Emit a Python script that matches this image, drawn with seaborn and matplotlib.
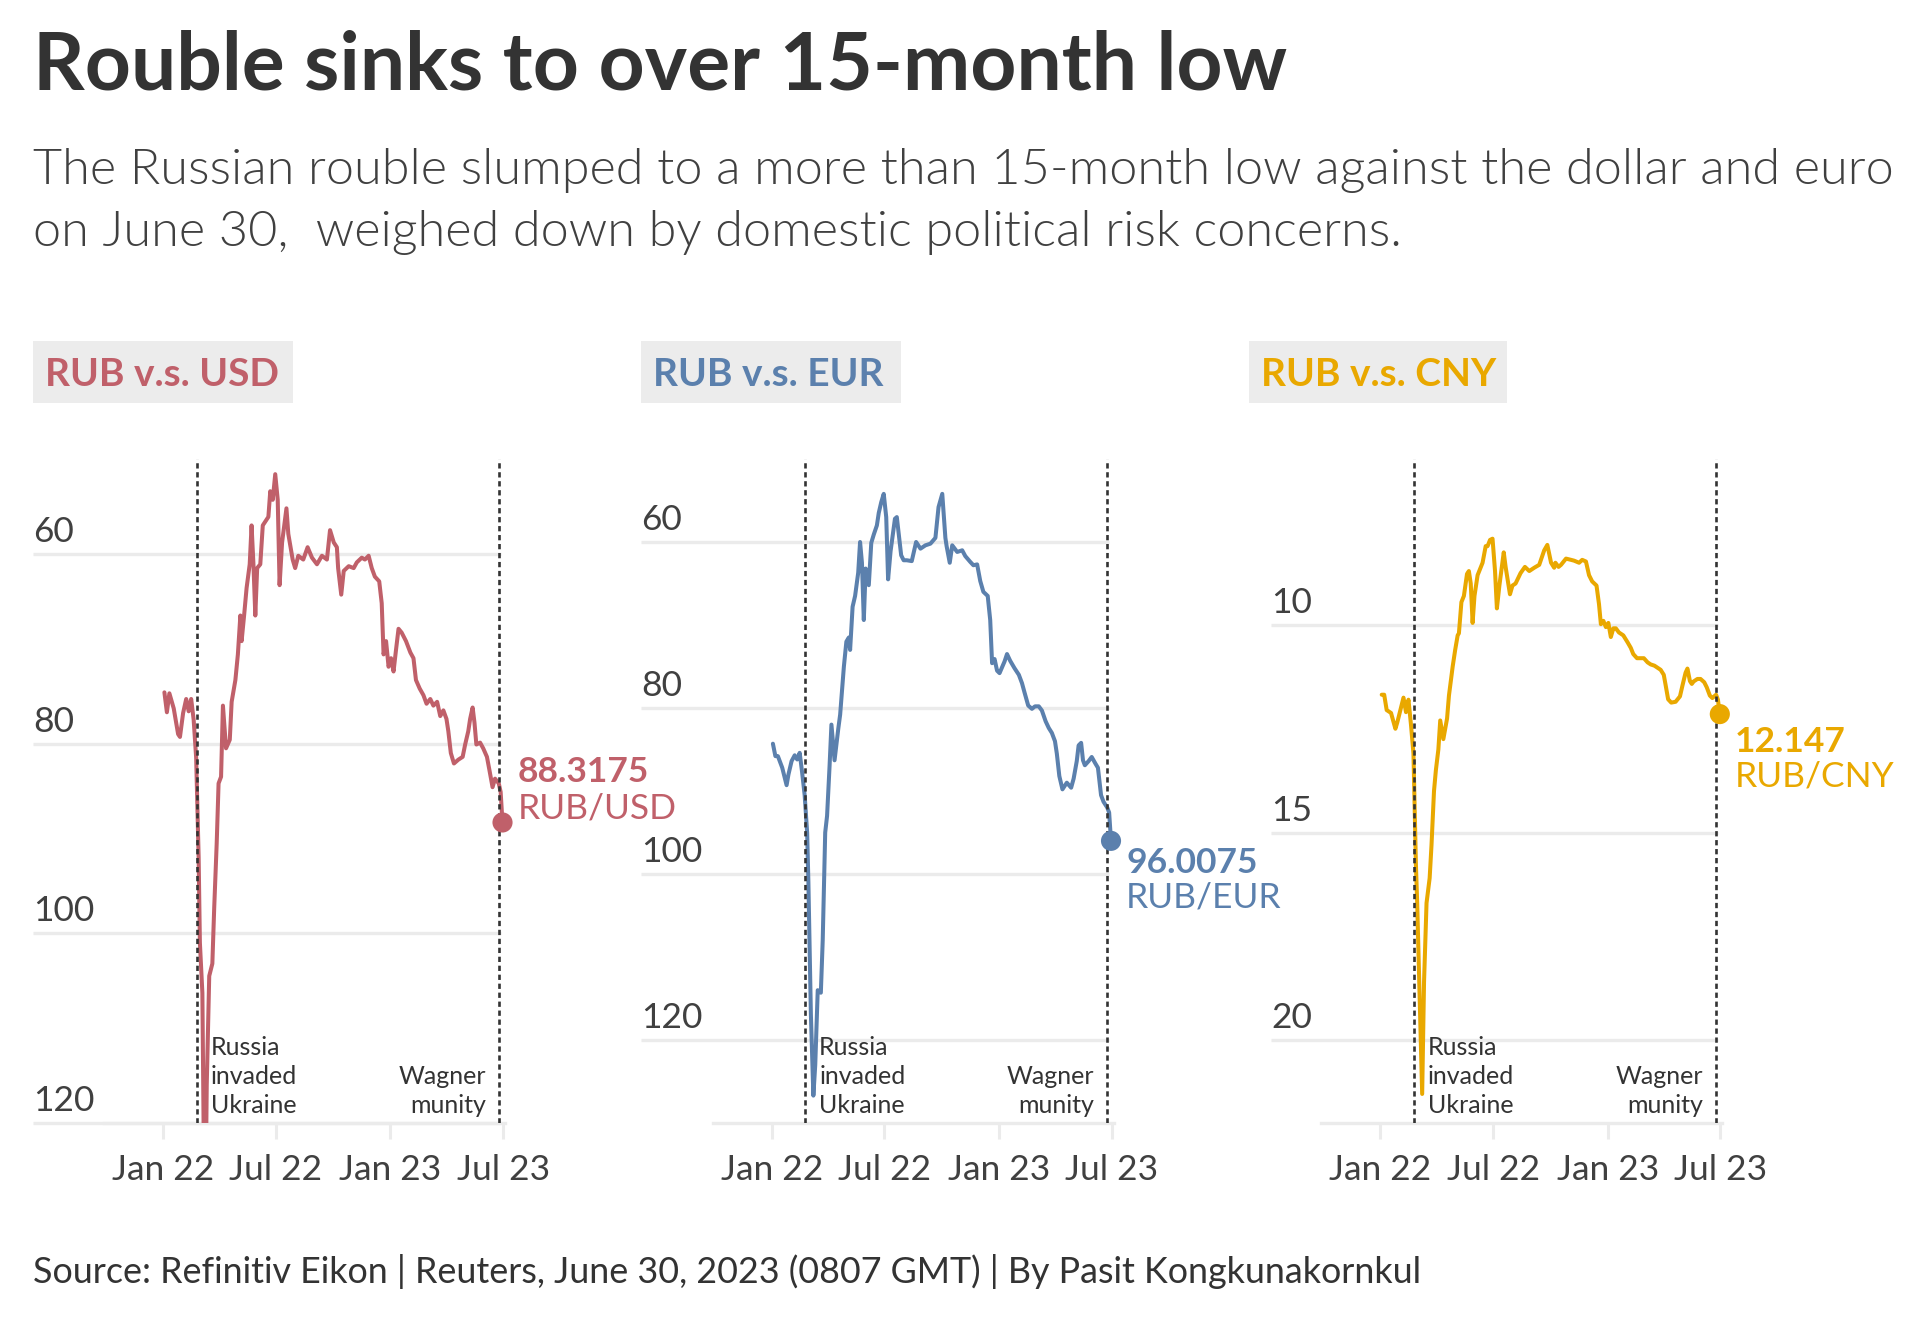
import matplotlib
matplotlib.use("Agg")
import matplotlib.pyplot as plt
import matplotlib.dates as mdates
from matplotlib import font_manager
from matplotlib.patches import Rectangle
import pandas as pd
import seaborn as sns

# ---------------- data ----------------
dates = [
    "2022-01-03", "2022-01-07", "2022-01-11", "2022-01-18", "2022-01-25", "2022-01-28",
    "2022-02-02", "2022-02-07", "2022-02-11", "2022-02-15", "2022-02-19", "2022-02-23",
    "2022-02-27", "2022-03-01", "2022-03-05", "2022-03-09", "2022-03-12", "2022-03-16",
    "2022-03-21", "2022-03-24", "2022-03-28", "2022-03-31", "2022-04-04", "2022-04-07",
    "2022-04-12", "2022-04-18", "2022-04-21", "2022-04-27", "2022-05-01", "2022-05-05",
    "2022-05-07", "2022-05-11", "2022-05-15", "2022-05-20", "2022-05-23", "2022-05-26",
    "2022-05-29", "2022-06-01", "2022-06-06", "2022-06-10", "2022-06-14", "2022-06-19",
    "2022-06-22", "2022-06-26", "2022-06-30", "2022-07-04", "2022-07-07", "2022-07-11",
    "2022-07-18", "2022-07-21", "2022-07-28", "2022-08-01", "2022-08-06", "2022-08-14",
    "2022-08-21", "2022-08-28", "2022-09-05", "2022-09-13", "2022-09-21", "2022-09-26",
    "2022-10-02", "2022-10-07", "2022-10-09", "2022-10-14", "2022-10-18", "2022-10-26",
    "2022-11-03", "2022-11-08", "2022-11-16", "2022-11-21", "2022-11-27", "2022-12-02",
    "2022-12-07", "2022-12-14", "2022-12-18", "2022-12-21", "2022-12-25", "2022-12-29",
    "2023-01-02", "2023-01-06", "2023-01-10", "2023-01-14", "2023-01-19", "2023-01-26",
    "2023-02-02", "2023-02-07", "2023-02-11", "2023-02-17", "2023-02-23", "2023-02-28",
    "2023-03-06", "2023-03-11", "2023-03-17", "2023-03-22", "2023-03-27", "2023-04-01",
    "2023-04-04", "2023-04-08", "2023-04-13", "2023-04-20", "2023-04-27", "2023-05-01",
    "2023-05-06", "2023-05-09", "2023-05-13", "2023-05-16", "2023-05-19", "2023-05-25",
    "2023-05-30", "2023-06-05", "2023-06-09", "2023-06-14", "2023-06-18", "2023-06-24",
    "2023-06-27", "2023-06-30",
]

rub_usd = [
    74.6, 76.7, 74.7, 76.3, 79.0, 79.3, 76.8, 75.3, 76.6, 75.3,
    77.5, 81.5, 92.0, 101.0, 106.3, 135.0, 116.0, 104.5, 103.2, 97.3,
    90.5, 84.2, 83.5, 76.0, 80.5, 79.6, 75.6, 73.3, 70.6, 66.5,
    69.2, 66.5, 63.6, 61.1, 57.0, 61.1, 66.5, 61.5, 61.1, 57.0,
    56.6, 56.1, 53.4, 54.3, 51.6, 54.3, 63.3, 58.8, 55.2, 57.9,
    60.6, 61.5, 60.2, 60.6, 59.3, 60.4, 61.1, 60.2, 60.6, 57.5,
    58.8, 59.3, 61.5, 64.3, 61.8, 61.3, 61.5, 60.9, 60.4, 60.6,
    60.2, 61.5, 62.4, 62.9, 65.2, 70.6, 69.2, 71.9, 71.0, 72.4,
    70.1, 67.9, 68.3, 69.2, 70.4, 71.0, 73.3, 74.2, 74.9, 75.8,
    75.3, 76.0, 75.6, 77.1, 76.5, 77.4, 78.7, 81.0, 82.1, 81.7,
    81.4, 80.1, 78.7, 77.4, 76.2, 77.8, 80.1, 79.9, 80.5, 81.4,
    82.8, 84.6, 83.7, 84.2, 85.1, 88.3175,
]

rub_eur = [
    84.3, 85.8, 85.8, 87.2, 89.3, 88.0, 86.4, 85.7, 86.2, 85.4,
    87.8, 90.5, 95.0, 101.0, 116.9, 126.7, 123.0, 114.0, 114.3, 108.0,
    95.0, 93.0, 87.0, 82.0, 86.3, 82.5, 80.8, 75.0, 72.0, 71.5,
    73.0, 67.8, 66.5, 63.7, 60.0, 62.5, 69.4, 63.2, 65.2, 60.1,
    59.1, 58.0, 56.5, 55.2, 54.2, 57.0, 64.5, 61.1, 57.2, 57.0,
    61.6, 62.2, 62.2, 62.3, 60.0, 60.8, 60.4, 60.2, 59.5, 55.8,
    54.2, 59.5, 60.5, 62.5, 60.4, 61.2, 61.0, 61.7, 62.4, 62.8,
    62.7, 64.7, 66.0, 66.5, 69.4, 74.6, 74.1, 75.5, 75.8, 75.1,
    74.4, 73.5, 74.3, 75.2, 76.0, 77.0, 78.1, 79.7, 80.1, 79.8,
    79.8, 80.3, 81.6, 82.4, 83.0, 84.0, 85.5, 88.2, 89.8, 89.0,
    89.6, 88.5, 86.4, 84.5, 84.2, 86.3, 86.9, 86.4, 85.9, 86.7,
    87.2, 90.5, 91.3, 92.0, 92.6, 96.0075,
]

rub_cny = [
    11.68, 11.68, 12.05, 12.12, 12.5, 12.35, 12.05, 11.75, 12.1, 11.8,
    12.4, 13.1, 15.8, 16.7, 19.0, 21.3, 18.6, 16.7, 16.1, 15.3,
    14.0, 13.5, 13.0, 12.3, 12.75, 12.25, 11.7, 11.0, 10.6, 10.25,
    10.2, 9.45, 9.3, 8.77, 8.7, 9.0, 9.95, 9.3, 8.8, 8.65,
    8.5, 8.1, 8.1, 7.95, 7.92, 8.7, 9.6, 9.05, 8.25, 8.6,
    9.26, 9.05, 9.0, 8.75, 8.6, 8.7, 8.62, 8.55, 8.2, 8.07,
    8.5, 8.62, 8.5, 8.6, 8.55, 8.4, 8.43, 8.45, 8.5, 8.43,
    8.47, 8.8, 8.95, 9.05, 9.5, 9.98, 9.9, 10.05, 9.95, 10.29,
    10.08, 10.08, 10.18, 10.25, 10.42, 10.55, 10.7, 10.8, 10.8, 10.8,
    10.9, 10.95, 10.98, 11.03, 11.08, 11.2, 11.45, 11.79, 11.87, 11.85,
    11.72, 11.46, 11.15, 11.05, 11.35, 11.42, 11.36, 11.3, 11.3, 11.38,
    11.5, 11.7, 11.76, 11.68, 11.8, 12.147,
]

panel_titles = ["RUB v.s. USD", "RUB v.s. EUR", "RUB v.s. CNY"]
pair_labels = ["RUB/USD", "RUB/EUR", "RUB/CNY"]
last_value_labels = ["88.3175", "96.0075", "12.147"]
y_ticks = [[60, 80, 100, 120], [60, 80, 100, 120], [10, 15, 20]]
y_limits = [(120, 50), (130, 50), (22, 6)]
x_tick_dates = ["2022-01-01", "2022-07-01", "2023-01-01", "2023-07-01"]
x_tick_labels = ["Jan 22", "Jul 22", "Jan 23", "Jul 23"]
event_dates = ["2022-02-24", "2023-06-24"]
event_labels = ["Russia\ninvaded\nUkraine", "Wagner\nmunity"]

title = "Rouble sinks to over 15-month low"
subtitle_lines = [
    "The Russian rouble slumped to a more than 15-month low against the dollar and euro",
    "on June 30,  weighed down by domestic political risk concerns.",
]
source = "Source: Refinitiv Eikon | Reuters, June 30, 2023 (0807 GMT) | By Pasit Kongkunakornkul"

# ---------------- styling ----------------
sns.set_theme(style="white")
plt.rcParams["font.family"] = ["Lato", "DejaVu Sans"]

# pick a genuine "light" face for the subtitle if one is installed
_faces = {(f.name, f.weight) for f in font_manager.fontManager.ttflist}
sub_family, sub_weight = ["Lato", "DejaVu Sans"], "normal"
for fam in ["Lato", "Roboto", "Open Sans", "Noto Sans", "Inter"]:
    if (fam, 300) in _faces:
        sub_family, sub_weight = [fam, "DejaVu Sans"], 300
        break

W, H = 1932, 1320
fig = plt.figure(figsize=(W / 100, H / 100), dpi=100)
fig.patch.set_facecolor("white")


def fx(x):
    return x / W


def fy(y):
    return 1 - y / H


colors = ["#c0606a", "#5b80ad", "#e9a800"]
series = [rub_usd, rub_eur, rub_cny]
axes_left = [104, 712.5, 1321.3]
AX_W = 401
grid_start = [33, 641, 1271]
header_left = [33, 641, 1249]
header_width = [260, 260, 258]
label_offsets = [(-50, -14), (22, 57), (28, 62)]
AX_TOP, AX_BOT = 459, 1123
GRID = "#ebebeb"
TXT = "#404040"
DARK = "#333333"

date_index = pd.to_datetime(dates)
xmin, xmax = pd.Timestamp("2021-09-28"), pd.Timestamp("2023-07-04")

header_texts = []
for i in range(3):
    L = axes_left[i]
    ax = fig.add_axes([fx(L), fy(AX_BOT), AX_W / W, (AX_BOT - AX_TOP) / H])
    ax.set_facecolor("none")
    df = pd.DataFrame({"date": date_index, "rate": series[i]})
    sns.lineplot(data=df, x="date", y="rate", ax=ax, color=colors[i],
                 linewidth=2.9, zorder=3, solid_joinstyle="round")
    ax.set_xlim(xmin, xmax)
    ax.set_ylim(*y_limits[i])
    ax.set_xlabel("")
    ax.set_ylabel("")
    ax.grid(False)
    ax.set_yticks([])

    g0 = (grid_start[i] - L) / AX_W
    ytr = ax.get_yaxis_transform()
    for v in y_ticks[i]:
        ax.plot([g0, 0.99], [v, v], transform=ytr, color=GRID, lw=2.4,
                clip_on=False, zorder=1, solid_capstyle="butt")
        ax.annotate(f"{v}", xy=(g0, v), xycoords=ytr, xytext=(0, 8.6),
                    textcoords="offset points", ha="left", va="baseline",
                    fontsize=25.5, color=TXT, annotation_clip=False)

    for s in ["left", "right", "top"]:
        ax.spines[s].set_visible(False)
    ax.spines["bottom"].set_color(GRID)
    ax.spines["bottom"].set_linewidth(2.4)
    ax.set_xticks(pd.to_datetime(x_tick_dates))
    ax.set_xticklabels(x_tick_labels)
    ax.tick_params(axis="x", which="major", bottom=True, length=11.5, width=2.2,
                   color=GRID, pad=10.5, labelsize=25.5, labelcolor=TXT, direction="out")
    ax.tick_params(axis="x", which="minor", bottom=False)

    # event lines
    xtr = ax.get_xaxis_transform()
    for d, lab, side in zip(event_dates, event_labels, ["left", "right"]):
        dnum = mdates.date2num(pd.Timestamp(d))
        ax.axvline(dnum, color=DARK, lw=1.9, ls=(0, (2.0, 1.4)), zorder=4)
        ax.annotate(lab, xy=(dnum, 0), xycoords=xtr,
                    xytext=(10 if side == "left" else -9.4, 4),
                    textcoords="offset points", ha=side, va="bottom",
                    fontsize=18, color=DARK, linespacing=1.32, multialignment=side)

    # end dot and value labels
    last_x = mdates.date2num(date_index[-1])
    last_y = series[i][-1]
    sns.scatterplot(x=[date_index[-1]], y=[last_y], ax=ax, s=210, color=colors[i],
                    edgecolor="none", zorder=5, clip_on=False, legend=False)
    o1, o2 = label_offsets[i]
    ax.annotate(last_value_labels[i], xy=(last_x, last_y), xytext=(10.8, -o1 * 0.72),
                textcoords="offset points", ha="left", va="center", fontsize=25.5,
                fontweight="bold", color=colors[i], annotation_clip=False)
    ax.annotate(pair_labels[i], xy=(last_x, last_y), xytext=(10.8, -o2 * 0.72),
                textcoords="offset points", ha="left", va="center", fontsize=25.5,
                color=colors[i], annotation_clip=False)

    # header box
    fig.add_artist(Rectangle((fx(header_left[i]), fy(403)), header_width[i] / W, 62 / H,
                             transform=fig.transFigure, facecolor="#ececec",
                             edgecolor="none", zorder=0))
    t = fig.text(fx(header_left[i] + 12), fy(386), panel_titles[i], ha="left",
                 va="baseline", fontsize=28, fontweight="bold", color=colors[i])
    header_texts.append(t)

t_title = fig.text(fx(33), fy(89.5), title, ha="left", va="baseline", fontsize=60,
                   fontweight="bold", color=DARK)
t_sub1 = fig.text(fx(33), fy(184), subtitle_lines[0], ha="left", va="baseline",
                  fontsize=34, fontweight=sub_weight, family=sub_family, color=TXT)
t_sub2 = fig.text(fx(33), fy(246), subtitle_lines[1], ha="left", va="baseline",
                  fontsize=34, fontweight=sub_weight, family=sub_family, color=TXT)
t_src = fig.text(fx(33), fy(1283), source, ha="left", va="baseline", fontsize=24,
                 color=DARK)

fig.canvas.draw()
renderer = fig.canvas.get_renderer()


def fit(t, target):
    w = t.get_window_extent(renderer).width
    t.set_fontsize(t.get_fontsize() * target / w)


fit(t_title, 1254)
fit(t_sub1, 1861)
t_sub2.set_fontsize(t_sub1.get_fontsize())
fit(t_src, 1390)
fit(header_texts[0], 234)
for t in header_texts[1:]:
    t.set_fontsize(header_texts[0].get_fontsize())

fig.savefig("out.png", dpi=100, facecolor="white")
